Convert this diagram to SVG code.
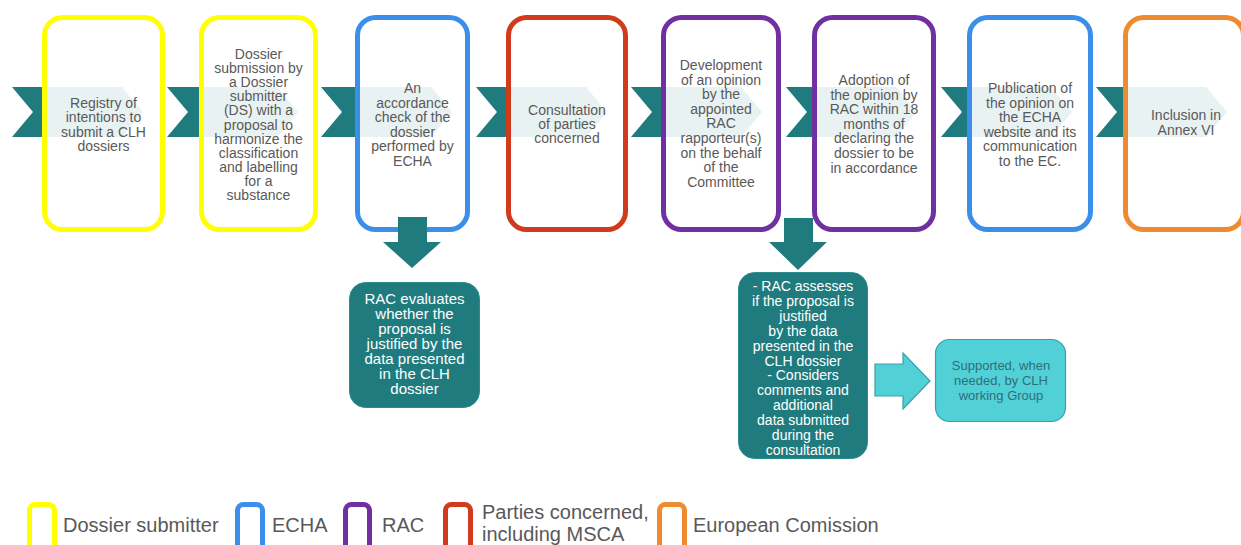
<svg xmlns="http://www.w3.org/2000/svg" width="1241" height="545" viewBox="0 0 1241 545">
<style>
  .chev { fill: #1f7b7d; }
  .box { fill: #ffffff; fill-opacity: 0.9; stroke-width: 5; }
  .y { stroke: #ffff00; }
  .b { stroke: #3b8eea; }
  .r { stroke: #cf3b1c; }
  .p { stroke: #7030a0; }
  .o { stroke: #ee8b30; }
  .t { font-family: "Liberation Sans", Arial, sans-serif; font-size: 14px; fill: #595959; text-anchor: middle; }
  .tw { font-family: "Liberation Sans", Arial, sans-serif; font-size: 15px; fill: #ffffff; text-anchor: middle; }
  .tc { font-family: "Liberation Sans", Arial, sans-serif; font-size: 13px; fill: #2f6f75; text-anchor: middle; }
  .teal { fill: #1f7b7d; stroke: #2b8c8e; stroke-width: 1; }
  .cyan { fill: #52d0d8; stroke: #3b9fa6; stroke-width: 1.2; }
  .lg { fill: none; stroke-width: 5; }
  .lt { font-family: "Liberation Sans", Arial, sans-serif; font-size: 20px; fill: #595959; }
</style>
<rect width="1241" height="545" fill="#ffffff"/>
<g id="connectors">
  <path class="chev" d="M12,87 L122,87 L143,112 L122,137 L12,137 L33,112 Z"/>
  <path class="chev" d="M167,87 L277,87 L298,112 L277,137 L167,137 L188,112 Z"/>
  <path class="chev" d="M321,87 L431,87 L452,112 L431,137 L321,137 L342,112 Z"/>
  <path class="chev" d="M476,87 L586,87 L607,112 L586,137 L476,137 L497,112 Z"/>
  <path class="chev" d="M631,87 L741,87 L762,112 L741,137 L631,137 L652,112 Z"/>
  <path class="chev" d="M786,87 L896,87 L917,112 L896,137 L786,137 L807,112 Z"/>
  <path class="chev" d="M941,87 L1051,87 L1072,112 L1051,137 L941,137 L962,112 Z"/>
  <path class="chev" d="M1096,87 L1206,87 L1227,112 L1206,137 L1096,137 L1117,112 Z"/>
</g>
<g id="n1"><rect class="box y" x="44.5" y="17.5" width="118" height="212" rx="18"/>
  <text class="t"><tspan x="103.5" y="108">Registry of</tspan><tspan x="103.5" y="122.4">intentions to</tspan><tspan x="103.5" y="136.8">submit a CLH</tspan><tspan x="103.5" y="151.2">dossiers</tspan></text></g>
<g id="n2"><rect class="box y" x="201.5" y="17.5" width="114" height="212" rx="18"/>
  <text class="t"><tspan x="258.5" y="59">Dossier</tspan><tspan x="258.5" y="73.1">submission by</tspan><tspan x="258.5" y="87.2">a Dossier</tspan><tspan x="258.5" y="101.3">submitter</tspan><tspan x="258.5" y="115.4">(DS) with a</tspan><tspan x="258.5" y="129.5">proposal to</tspan><tspan x="258.5" y="143.6">harmonize  the</tspan><tspan x="258.5" y="157.7">classification</tspan><tspan x="258.5" y="171.8">and labelling</tspan><tspan x="258.5" y="185.9">for a</tspan><tspan x="258.5" y="200">substance</tspan></text></g>
<g id="n3"><rect class="box b" x="357.5" y="17.5" width="110" height="212" rx="18"/>
  <text class="t"><tspan x="412.5" y="93">An</tspan><tspan x="412.5" y="107.6">accordance</tspan><tspan x="412.5" y="122.2">check of the</tspan><tspan x="412.5" y="136.8">dossier</tspan><tspan x="412.5" y="151.4">performed by</tspan><tspan x="412.5" y="166">ECHA</tspan></text></g>
<g id="n4"><rect class="box r" x="508.5" y="17.5" width="117" height="212" rx="18"/>
  <text class="t"><tspan x="567" y="115">Consultation</tspan><tspan x="567" y="129.2">of parties</tspan><tspan x="567" y="143.4">concerned</tspan></text></g>
<g id="n5"><rect class="box p" x="663.5" y="17.5" width="115" height="212" rx="18"/>
  <text class="t"><tspan x="721" y="70">Development</tspan><tspan x="721" y="84.6">of an opinion</tspan><tspan x="721" y="99.2">by the</tspan><tspan x="721" y="113.8">appointed</tspan><tspan x="721" y="128.4">RAC</tspan><tspan x="721" y="143">rapporteur(s)</tspan><tspan x="721" y="157.6">on the behalf</tspan><tspan x="721" y="172.2">of the</tspan><tspan x="721" y="186.8">Committee</tspan></text></g>
<g id="n6"><rect class="box p" x="814.5" y="17.5" width="119" height="212" rx="18"/>
  <text class="t"><tspan x="874" y="85">Adoption of</tspan><tspan x="874" y="99.6">the opinion by</tspan><tspan x="874" y="114.2">RAC within 18</tspan><tspan x="874" y="128.8">months of</tspan><tspan x="874" y="143.4">declaring the</tspan><tspan x="874" y="158">dossier to be</tspan><tspan x="874" y="172.6">in accordance</tspan></text></g>
<g id="n7"><rect class="box b" x="969.5" y="17.5" width="121" height="212" rx="18"/>
  <text class="t"><tspan x="1030" y="93">Publication of</tspan><tspan x="1030" y="107.6">the opinion on</tspan><tspan x="1030" y="122.2">the ECHA</tspan><tspan x="1030" y="136.8">website and its</tspan><tspan x="1030" y="151.4">communication</tspan><tspan x="1030" y="166">to the EC.</tspan></text></g>
<g id="n8"><rect class="box o" x="1125.5" y="17.5" width="118" height="212" rx="18"/>
  <text class="t"><tspan x="1186" y="120">Inclusion in</tspan><tspan x="1186" y="134.5">Annex VI</tspan></text></g>
<g id="arrows">
  <path fill="#1f7b7d" d="M398,217 L427,217 L427,242 L441,242 L412,268 L383,242 L398,242 Z"/>
  <path fill="#1f7b7d" d="M784,218 L813,218 L813,242 L827,242 L798,270 L769,242 L784,242 Z"/>
  <path class="cyan" d="M875,364 L903,364 L903,353 L930,381 L903,409 L903,396 L875,396 Z"/>
</g>
<g id="n9"><rect class="teal" x="349.5" y="282.5" width="130" height="125" rx="16"/>
  <text class="tw"><tspan x="414.5" y="304">RAC evaluates</tspan><tspan x="414.5" y="319">whether the</tspan><tspan x="414.5" y="334">proposal is</tspan><tspan x="414.5" y="349">justified by the</tspan><tspan x="414.5" y="364">data presented</tspan><tspan x="414.5" y="379">in the CLH</tspan><tspan x="414.5" y="394">dossier</tspan></text></g>
<g id="n10"><rect class="teal" x="738.5" y="272.5" width="129" height="186" rx="16"/>
  <text class="tw" style="font-size:14px"><tspan x="803" y="291">- RAC assesses</tspan><tspan x="803" y="305.9">if the proposal is</tspan><tspan x="803" y="320.8">justified</tspan><tspan x="803" y="335.7">by the data</tspan><tspan x="803" y="350.6">presented in the</tspan><tspan x="803" y="365.5">CLH dossier</tspan><tspan x="803" y="380.4">- Considers</tspan><tspan x="803" y="395.3">comments and</tspan><tspan x="803" y="410.2">additional</tspan><tspan x="803" y="425.1">data submitted</tspan><tspan x="803" y="440">during the</tspan><tspan x="803" y="454.9">consultation</tspan></text></g>
<g id="n11"><rect class="cyan" x="935.5" y="339.5" width="130" height="82" rx="14"/>
  <text class="tc"><tspan x="1001" y="370">Supported, when</tspan><tspan x="1001" y="385">needed, by CLH</tspan><tspan x="1001" y="400">working Group</tspan></text></g>
<g id="legend">
  <rect class="lg y" x="29.5" y="504.5" width="25" height="52" rx="6"/>
  <text class="lt" x="63" y="532">Dossier submitter</text>
  <rect class="lg b" x="237.5" y="504.5" width="25" height="52" rx="6"/>
  <text class="lt" x="272" y="532">ECHA</text>
  <rect class="lg p" x="345.5" y="504.5" width="24" height="52" rx="6"/>
  <text class="lt" x="382" y="532">RAC</text>
  <rect class="lg r" x="445.5" y="504.5" width="25" height="52" rx="6"/>
  <text class="lt" x="482" y="519">Parties concerned,</text>
  <text class="lt" x="482" y="541">including MSCA</text>
  <rect class="lg o" x="659.5" y="504.5" width="25" height="52" rx="6"/>
  <text class="lt" x="693" y="532">European Comission</text>
</g>
</svg>
